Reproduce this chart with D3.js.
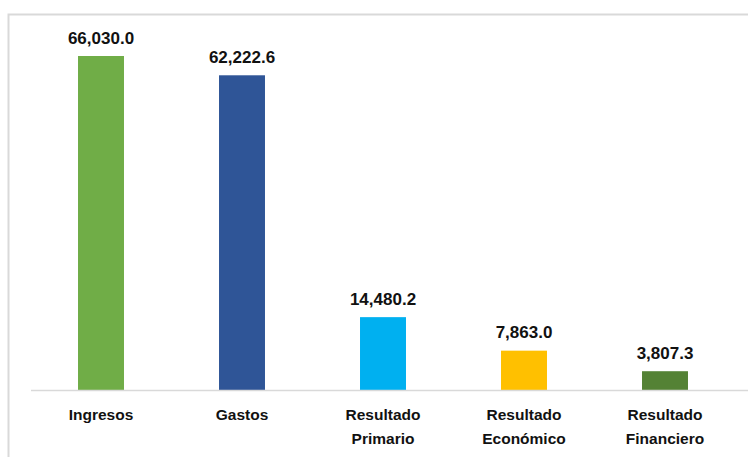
<!DOCTYPE html>
<html>
<head>
<meta charset="utf-8">
<script src="https://cdn.jsdelivr.net/npm/d3@7"></script>
<style>
  body { margin: 0; background: #fff; }
  svg { display: block; }
</style>
</head>
<body>
<div id="chart"></div>
<script>
// Fiscal results (values from the picture)
const categorias = [['Ingresos'], ['Gastos'], ['Resultado', 'Primario'], ['Resultado', 'Económico'], ['Resultado', 'Financiero']];
const valores = [66030.0, 62222.6, 14480.2, 7863.0, 3807.3];
const colores = ['#70AD47', '#2F5597', '#00B0F0', '#FFC000', '#548235'];

const width = 748, height = 457;
const fontFam = '"Liberation Sans", Arial, sans-serif';

let svg = d3.select('#chart').append('svg')
    .attr('width', width)
    .attr('height', height);

// chart frame (runs past the right and bottom edges)
svg.append('rect')
    .attr('x', 8.5).attr('y', 14.5)
    .attr('width', width + 20).attr('height', height + 20)
    .attr('fill', 'none')
    .attr('stroke', '#D9D9D9')
    .attr('stroke-width', 2);

let x = d3.scaleBand()
    .domain(d3.range(valores.length))
    .range([30.5, 735.5])
    .paddingInner(0.674)
    .paddingOuter(0.337);

let y = d3.scaleLinear()
    .domain([0, 66030])
    .range([390.5, 56]);

let g = svg.append('g');

g.selectAll('rect.bar')
    .data(valores).enter()
    .append('rect')
    .attr('class', 'bar')
    .attr('x', (d, i) => x(i))
    .attr('y', d => y(d))
    .attr('width', x.bandwidth())
    .attr('height', d => y(0) - y(d))
    .attr('fill', (d, i) => colores[i]);

// baseline
g.append('line')
    .attr('x1', 31).attr('x2', width)
    .attr('y1', y(0)).attr('y2', y(0))
    .attr('stroke', '#D9D9D9')
    .attr('stroke-width', 1.5);

// value labels
g.selectAll('text.val')
    .data(valores).enter()
    .append('text')
    .attr('class', 'val')
    .attr('x', (d, i) => x(i) + x.bandwidth() / 2)
    .attr('y', d => y(d) - 12.5)
    .attr('text-anchor', 'middle')
    .attr('font-family', fontFam)
    .attr('font-weight', 'bold')
    .attr('font-size', '17px')
    .attr('fill', '#111')
    .text(d => d3.format(',.1f')(d));

// category labels
let cat = g.selectAll('text.cat')
    .data(categorias).enter()
    .append('text')
    .attr('class', 'cat')
    .attr('text-anchor', 'middle')
    .attr('font-family', fontFam)
    .attr('font-weight', 'bold')
    .attr('font-size', '15.5px')
    .attr('fill', '#111');

cat.selectAll('tspan')
    .data((d, i) => d.map(t => ({t: t, i: i})))
    .enter().append('tspan')
    .attr('x', d => x(d.i) + x.bandwidth() / 2)
    .attr('y', (d, j) => 420 + j * 24)
    .text(d => d.t);
</script>
</body>
</html>
